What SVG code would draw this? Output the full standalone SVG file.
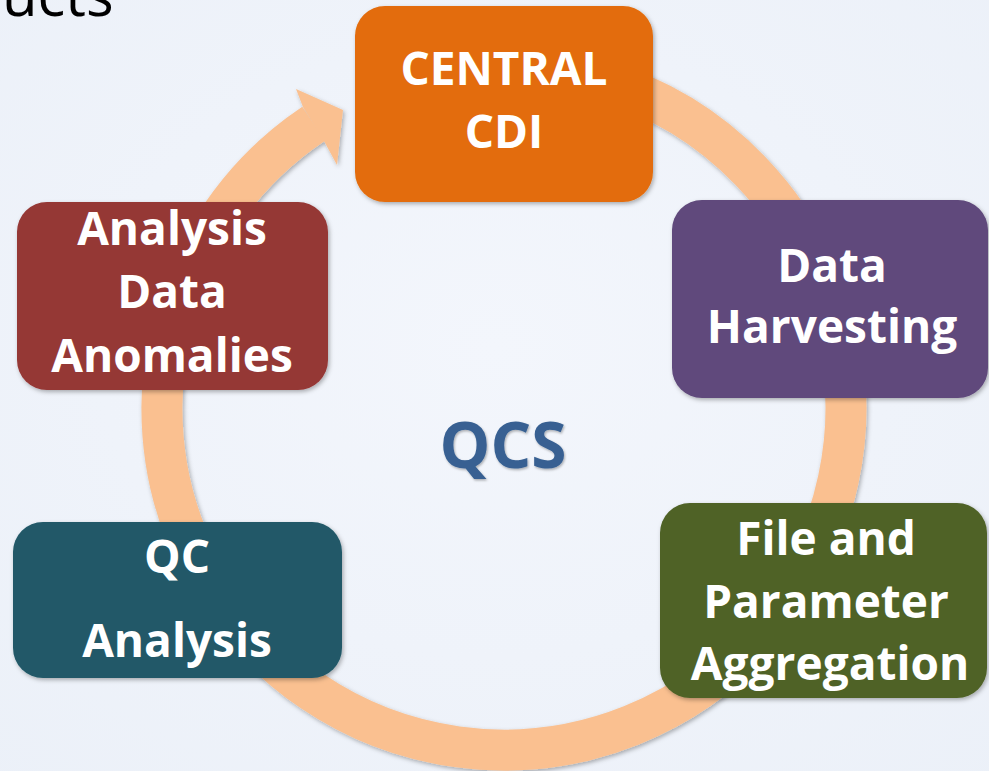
<svg xmlns="http://www.w3.org/2000/svg" width="989" height="771" viewBox="0 0 989 771">
<defs>
<radialGradient id="bg" cx="0.5" cy="0.45" r="0.8">
<stop offset="0" stop-color="#F3F6FC"/>
<stop offset="1" stop-color="#EBF0F8"/>
</radialGradient>
<filter id="sh" x="-10%" y="-10%" width="125%" height="125%">
<feDropShadow dx="1.5" dy="2" stdDeviation="2" flood-color="#000" flood-opacity="0.3"/>
</filter>
<filter id="tsh" x="-10%" y="-10%" width="125%" height="125%">
<feDropShadow dx="1" dy="1.5" stdDeviation="1.2" flood-color="#000" flood-opacity="0.3"/>
</filter>
<style>
.box{filter:url(#sh)}
.lbl{font-family:"Open Sans","Liberation Sans",sans-serif;font-weight:700;font-size:46px;fill:#FFFFFF;text-anchor:middle}
.ring{fill:none;stroke:#FAC090;stroke-width:41}
</style>
</defs>
<rect x="0" y="0" width="989" height="771" fill="url(#bg)"/>
<text x="2" y="16" font-family="'Open Sans','Liberation Sans',sans-serif" font-size="58" fill="#000000">ucts</text>
<g id="connectors" filter="url(#sh)">
<path class="ring" d="M444.6,71.2 A342,342 0 1 1 313.7,123.8"/>
<polygon points="296,89 343,110 337,165 324,141 303,107" fill="#FAC090"/>
</g>
<g id="central-cdi">
<rect class="box" x="355" y="6" width="298" height="196" rx="30" fill="#E36C0A"/>
<text class="lbl" x="504" y="85">CENTRAL</text>
<text class="lbl" x="504" y="148">CDI</text>
</g>
<g id="data-harvesting">
<rect class="box" x="672" y="200" width="316" height="198" rx="30" fill="#604A7B"/>
<text class="lbl" x="832" y="282">Data</text>
<text class="lbl" x="832" y="343">Harvesting</text>
</g>
<g id="file-parameter-aggregation">
<rect class="box" x="660" y="503" width="327" height="195" rx="30" fill="#4F6228"/>
<text class="lbl" x="826" y="555">File and</text>
<text class="lbl" x="826" y="618">Parameter</text>
<text class="lbl" x="830" y="680">Aggregation</text>
</g>
<g id="qc-analysis">
<rect class="box" x="13" y="522" width="329" height="156" rx="30" fill="#215968"/>
<text class="lbl" x="177" y="573">QC</text>
<text class="lbl" x="177" y="657">Analysis</text>
</g>
<g id="analysis-data-anomalies">
<rect class="box" x="17" y="202" width="311" height="188" rx="30" fill="#953735"/>
<text class="lbl" x="172" y="245">Analysis</text>
<text class="lbl" x="172" y="308">Data</text>
<text class="lbl" x="172" y="372">Anomalies</text>
</g>
<g id="qcs">
<text x="503" y="468" font-family="'Open Sans','Liberation Sans',sans-serif" font-weight="700" font-size="64" fill="#376092" text-anchor="middle" filter="url(#tsh)">QCS</text>
</g>
</svg>
